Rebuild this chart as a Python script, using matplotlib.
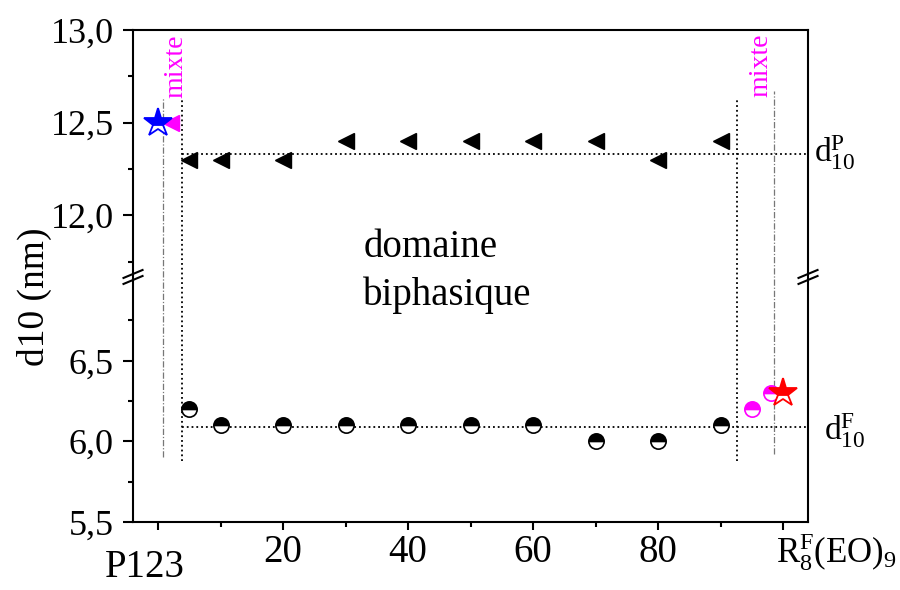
import numpy as np
import matplotlib
matplotlib.use('Agg')
import matplotlib.pyplot as plt

plt.rcParams['font.family'] = ['Liberation Serif', 'DejaVu Serif']
plt.rcParams['mathtext.fontset'] = 'custom'
plt.rcParams['mathtext.rm'] = 'Liberation Serif'
plt.rcParams['mathtext.it'] = 'Liberation Serif:italic'
plt.rcParams['mathtext.bf'] = 'Liberation Serif:bold'

# data (fraction of R8F(EO)9, %)
frac = [5, 10, 20, 30, 40, 50, 60, 70, 80, 90]
d10_P = [12.3, 12.3, 12.3, 12.4, 12.4, 12.4, 12.4, 12.4, 12.3, 12.4]
d10_F = [6.2, 6.1, 6.1, 6.1, 6.1, 6.1, 6.1, 6.0, 6.0, 6.1]
mixte_P_x = [2]
mixte_P_y = [12.5]
mixte_F_x = [95, 98]
mixte_F_y = [6.2, 6.3]
pure_P123 = (0, 12.5)
pure_RF = (100, 6.3)

# reference lines
mean_P = 12.33
mean_F = 6.09
limit_left, limit_right = 3.9, 92.6
mixte_left, mixte_right = 0.8, 98.6

yticks = [5.5, 6.0, 6.5, 12.0, 12.5, 13.0]
ytick_labels = ['5,5', '6,0', '6,5', '12,0', '12,5', '13,0']
yminor = [5.75, 6.25, 6.75, 11.75, 12.25, 12.75]
xticks = [0, 20, 40, 60, 80, 100]
xtick_labels = ['', '20', '40', '60', '80', '']
xminor = [10, 30, 50, 70, 90]

# broken y axis: piecewise linear scale (lower part 5.5-7.02, upper part 11.67-13)
y_pts = [-50.0, 5.5, 7.02, 11.67, 13.0, 60.0]
f_pts = [(-50.0 - 5.5) * 161, 0.0, 245.0, 245.5, 492.0, 492.0 + 47 * 186]


def forward(y):
    return np.interp(y, y_pts, f_pts)


def inverse(f):
    return np.interp(f, f_pts, y_pts)


fig = plt.figure(figsize=(9, 5.9), dpi=100)
ax = fig.add_axes([0.1478, 0.1153, 0.75, 0.8339])
ax.set_yscale('function', functions=(forward, inverse))
ax.set_xlim(-4, 104)
ax.set_ylim(5.5, 13.0)

# guide lines
dot = dict(color='black', ls=':', lw=1.3, zorder=1)
ax.plot([limit_left, 104], [mean_P, mean_P], clip_on=False, **dot)
ax.plot([limit_left, 104], [mean_F, mean_F], clip_on=False, **dot)
ax.plot([limit_left, limit_left], [5.88, 12.62], **dot)
ax.plot([limit_right, limit_right], [5.88, 12.63], **dot)
dd = dict(color='#777777', ls=(0, (5, 1.5, 1, 1.5)), lw=0.9, zorder=1)
ax.plot([mixte_left, mixte_left], [5.90, 12.64], **dd)
ax.plot([mixte_right, mixte_right], [5.92, 12.67], **dd)

# markers
ax.plot(frac, d10_P, ls='none', marker='<', ms=11, color='black', zorder=3)
ax.plot(frac, d10_F, ls='none', marker='o', ms=11, mec='black', mfc='black',
        fillstyle='top', markerfacecoloralt='white', mew=1.2, zorder=3)
ax.plot(mixte_P_x, mixte_P_y, ls='none', marker='<', ms=11, color='#FF00FF', zorder=3)
ax.plot(mixte_F_x, mixte_F_y, ls='none', marker='o', ms=11, mec='#FF00FF', mfc='#FF00FF',
        fillstyle='top', markerfacecoloralt='white', mew=1.2, zorder=3)
ax.plot([pure_P123[0]], [pure_P123[1]], ls='none', marker='*', ms=21, mec='#0000FF', mfc='#0000FF',
        fillstyle='top', markerfacecoloralt='white', mew=1.3, zorder=4)
ax.plot([pure_RF[0]], [pure_RF[1]], ls='none', marker='*', ms=21, mec='#FF0000', mfc='#FF0000',
        fillstyle='top', markerfacecoloralt='white', mew=1.3, zorder=4)

# axes styling
for s in ax.spines.values():
    s.set_linewidth(1.5)
ax.set_yticks(yticks, labels=ytick_labels)
ax.set_yticks(yminor, minor=True)
ax.set_xticks(xticks, labels=xtick_labels)
ax.set_xticks(xminor, minor=True)
ax.tick_params(axis='y', which='major', length=7, width=1.5, labelsize=26, pad=7)
ax.tick_params(axis='x', which='major', length=6, width=1.5, labelsize=28, pad=3)
ax.tick_params(which='minor', length=3.5, width=1.5)
ax.set_ylabel('d10 (nm)', fontsize=27)
ax.yaxis.set_label_coords(-0.12, 0.457)

# custom end labels on x axis
fig.text(0.161, 0.022, 'P123', fontsize=28, ha='center', va='baseline')
fig.text(0.862, 0.0458, r'$\mathrm{R}_{8}^{\mathrm{F}}\mathrm{(EO)}_{9}$', fontsize=25, ha='left', va='baseline')
fig.text(0.905, 0.725, r'$\mathrm{d}_{10}^{\mathrm{P}}$', fontsize=24, ha='left', va='baseline')
fig.text(0.916, 0.254, r'$\mathrm{d}_{10}^{\mathrm{F}}$', fontsize=24, ha='left', va='baseline')

# annotations
ax.text(0.341, 0.539, 'domaine', transform=ax.transAxes, fontsize=28, va='baseline')
ax.text(0.341, 0.441, 'biphasique', transform=ax.transAxes, fontsize=28, va='baseline')
ax.text(0.0637, 0.862, 'mixte', transform=ax.transAxes, fontsize=20, color='#FF00FF',
        rotation=90, ha='center', va='bottom')
ax.text(0.930, 0.864, 'mixte', transform=ax.transAxes, fontsize=20, color='#FF00FF',
        rotation=90, ha='center', va='bottom')

# axis break marks
yb = 245.0 / 492.0
dx, dy, off = 0.0141, 0.0081, 0.0061
for xb in (0.0, 1.0):
    for o in (off, -off):
        ax.plot([xb - dx, xb + dx], [yb + o - dy, yb + o + dy], transform=ax.transAxes,
                color='black', lw=1.5, clip_on=False, zorder=5)

plt.savefig('out.png', dpi=100)
